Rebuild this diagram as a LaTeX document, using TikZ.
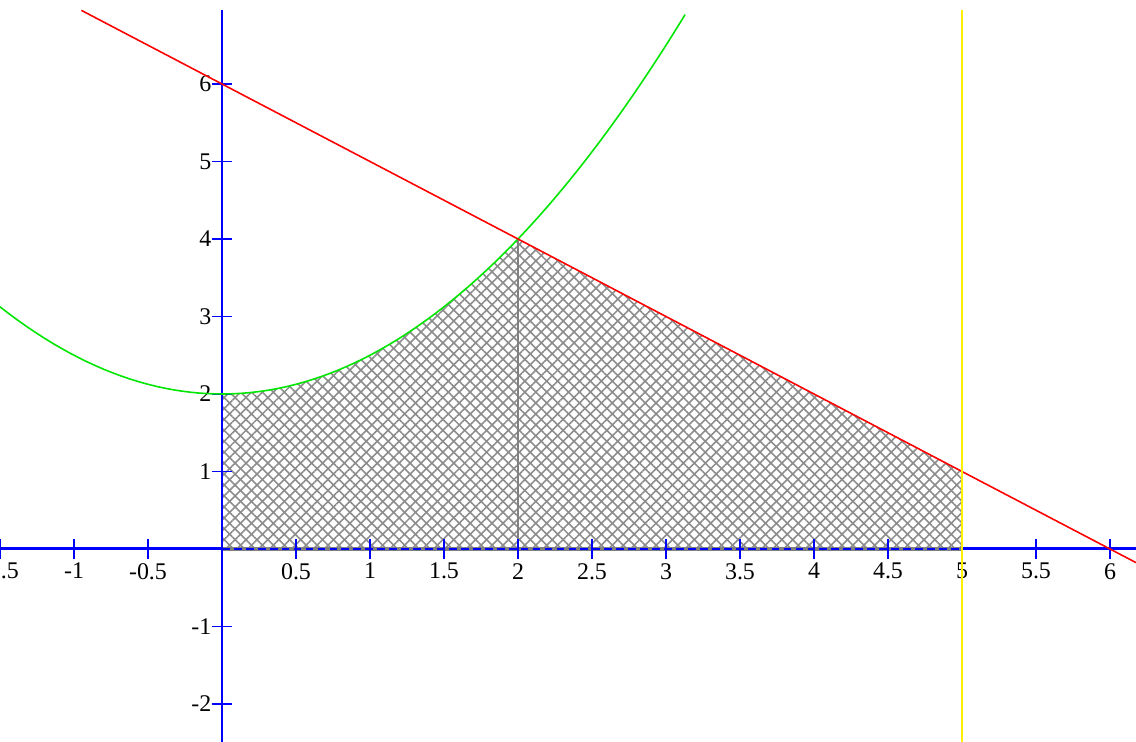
\documentclass[tikz,border=0pt]{standalone}
\usepackage{fontspec}
\setmainfont{Liberation Serif}
\usetikzlibrary{patterns.meta}

\definecolor{curvegreen}{RGB}{0,230,0}
\definecolor{boundyellow}{RGB}{255,240,0}

\begin{document}
\begin{tikzpicture}[
  x=1.48cm,y=0.775cm,
  axis/.style={blue,line width=0.85pt},
  tick/.style={blue,line width=0.45pt},
  hatch/.style={pattern={Lines[angle=#1,distance=2.2pt,line width=0.45pt]},pattern color=gray!90},
  xlab/.style={anchor=north,inner sep=0pt},
  ylab/.style={anchor=east,inner sep=0pt},
  every node/.append style={font=\fontsize{6.8}{8}\selectfont}
]
  \useasboundingbox (-1.5,-2.4903) rectangle (6.1757,7.0839);
  \coordinate (origin) at (0,0);
  \coordinate (peak) at (2,4);
  \coordinate (corner) at (5,1);
  \coordinate (foot) at (5,0);
  \coordinate (mid) at (2,0);

  % axes
  \draw[axis] (-1.5,0) -- (6.1757,0);
  \draw[axis] (0,-2.4903) -- (0,6.95);

  % shaded region
  \fill[hatch=45] (origin) -- (0,2) -- plot[domain=0:2,samples=40] (\x,{\x*\x/2+2}) -- (corner) -- (foot) -- cycle;
  \fill[hatch=-45] (origin) -- (0,2) -- plot[domain=0:2,samples=40] (\x,{\x*\x/2+2}) -- (corner) -- (foot) -- cycle;
  \draw[gray,line width=0.9pt] (origin) -- (foot);
  \draw[gray,line width=0.4pt] (mid) -- (peak);
  \draw[blue,line width=0.5pt,dash pattern=on 2.2pt off 1.2pt] (origin) -- (foot);
  \draw[axis] (0,-2.4903) -- (0,6.95);

  % ticks and labels
  \foreach \i in {-1.5,-1,-0.5,0.5,1,1.5,2,2.5,3,3.5,4,4.5,5,5.5,6} {
    \draw[tick] (\i,0) ++(0,-1mm) -- ++(0,2mm);
    \node[xlab] (xl\i) at ([yshift=-1.35mm]\i,0) {\i};
  }
  \foreach \j in {-2,-1,1,2,3,4,5,6} {
    \draw[tick] (0,\j) ++(-1mm,0) -- ++(2mm,0);
    \node[ylab] (yl\j) at ([xshift=-1mm]0,\j) {\j};
  }

  % curves
  \draw[curvegreen,line width=0.45pt] plot[domain=-1.5:3.13,samples=80] (\x,{\x*\x/2+2});
  \draw[red,line width=0.45pt] (-0.95,6.95) -- (6.1757,-0.1757);
  \draw[boundyellow,line width=0.6pt] (5,-2.4903) -- (5,6.95);
\end{tikzpicture}
\end{document}
